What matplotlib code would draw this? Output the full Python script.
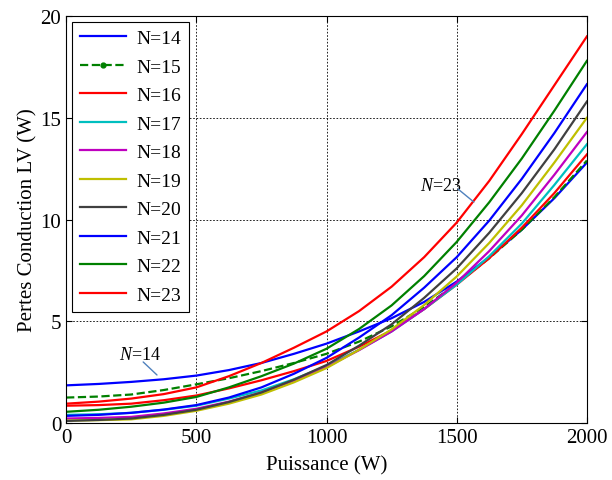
import matplotlib
matplotlib.use("Agg")
import matplotlib.pyplot as plt
from matplotlib.lines import Line2D

plt.rcParams["font.family"] = ["Liberation Serif", "DejaVu Serif"]
plt.rcParams["mathtext.fontset"] = "custom"
plt.rcParams["mathtext.rm"] = "Liberation Serif"
plt.rcParams["mathtext.it"] = "Liberation Serif:italic"

# Power sweep (W)
puissance = [0, 125, 250, 375, 500, 625, 750, 875, 1000,
             1125, 1250, 1375, 1500, 1625, 1750, 1875, 2000]

# Conduction losses on the LV side (W) for each number of turns N
pertes_n14 = [1.85, 1.92, 2.02, 2.15, 2.33, 2.60, 2.95, 3.40, 3.90,
              4.50, 5.15, 5.95, 6.95, 8.15, 9.50, 11.05, 12.8]
pertes_n15 = [1.25, 1.30, 1.40, 1.62, 1.90, 2.20, 2.55, 2.95, 3.40,
              4.00, 4.75, 5.70, 6.85, 8.10, 9.50, 11.10, 12.9]
pertes_n16 = [0.85, 0.88, 0.95, 1.12, 1.35, 1.70, 2.10, 2.55, 3.05,
              3.75, 4.55, 5.60, 6.80, 8.10, 9.60, 11.30, 13.2]
pertes_n17 = [0.40, 0.43, 0.50, 0.65, 0.85, 1.20, 1.60, 2.15, 2.80,
              3.60, 4.50, 5.60, 6.80, 8.20, 9.80, 11.70, 13.7]
pertes_n18 = [0.22, 0.25, 0.30, 0.47, 0.70, 1.05, 1.50, 2.08, 2.75,
              3.58, 4.50, 5.60, 6.90, 8.45, 10.2, 12.20, 14.3]
pertes_n19 = [0.12, 0.14, 0.18, 0.35, 0.60, 0.95, 1.40, 2.00, 2.70,
              3.60, 4.60, 5.80, 7.20, 8.85, 10.7, 12.80, 15.0]
pertes_n20 = [0.10, 0.15, 0.22, 0.40, 0.65, 1.03, 1.50, 2.13, 2.85,
              3.80, 4.85, 6.15, 7.60, 9.35, 11.3, 13.45, 15.8]
pertes_n21 = [0.35, 0.40, 0.50, 0.66, 0.88, 1.25, 1.75, 2.42, 3.20,
              4.20, 5.30, 6.65, 8.15, 9.95, 12.0, 14.25, 16.65]
pertes_n22 = [0.55, 0.65, 0.80, 1.00, 1.28, 1.75, 2.30, 2.92, 3.65,
              4.62, 5.78, 7.22, 8.90, 10.85, 13.0, 15.35, 17.8]
pertes_n23 = [0.95, 1.05, 1.20, 1.42, 1.75, 2.30, 2.95, 3.70, 4.50,
              5.50, 6.70, 8.15, 9.85, 11.90, 14.2, 16.60, 19.0]

labels = ["N=14", "N=15", "N=16", "N=17", "N=18",
          "N=19", "N=20", "N=21", "N=22", "N=23"]
series = [pertes_n14, pertes_n15, pertes_n16, pertes_n17, pertes_n18,
          pertes_n19, pertes_n20, pertes_n21, pertes_n22, pertes_n23]
colors = ["#0000ff", "#008000", "#ff0000", "#00bfbf", "#bf00bf",
          "#bfbf00", "#404040", "#0000ff", "#008000", "#ff0000"]
styles = ["-", "--", "-", "-", "-", "-", "-", "-", "-", "-"]

fig = plt.figure(figsize=(6.12, 4.81), dpi=100)
ax = fig.add_axes([0.108, 0.1185, 0.851, 0.846])

handles = []
for y, lab, c, ls in zip(series, labels, colors, styles):
    ax.plot(puissance, y, color=c, linestyle=ls, linewidth=1.6)
    if ls == "--":
        handles.append(Line2D([], [], color=c, linestyle=ls, linewidth=1.6,
                              marker=".", markersize=7, label=lab))
    else:
        handles.append(Line2D([], [], color=c, linestyle=ls, linewidth=1.6, label=lab))

ax.set_xlim(0, 2000)
ax.set_ylim(0, 20)
ax.set_xticks([0, 500, 1000, 1500, 2000])
ax.set_yticks([0, 5, 10, 15, 20])
ax.grid(True, color="black", linestyle=(0, (2, 2)), linewidth=0.6)
ax.tick_params(direction="in", top=True, right=True, labelsize=15, length=4)
for s in ax.spines.values():
    s.set_linewidth(0.8)

ax.set_xlabel("Puissance (W)", fontsize=15, labelpad=6)
ax.set_ylabel("Pertes Conduction LV (W)", fontsize=15, labelpad=2)

leg = ax.legend(handles=handles, loc="upper left", fontsize=14,
                frameon=True, fancybox=False, edgecolor="black",
                framealpha=1, handlelength=2.4, handletextpad=0.5,
                labelspacing=0.56, borderaxespad=0.3, numpoints=1)
leg.get_frame().set_linewidth(0.8)

# Callouts naming the extreme curves
leader = dict(arrowstyle="-", color="#4f81bd", linewidth=1.0, shrinkA=0, shrinkB=0)
ax.text(284, 3.39, "$\\mathit{N}$=14", fontsize=13, ha="center", va="center")
ax.annotate("", xy=(349, 2.36), xytext=(296, 3.0), arrowprops=leader)
ax.text(1440, 11.65, "$\\mathit{N}$=23", fontsize=13, ha="center", va="center")
ax.annotate("", xy=(1566, 10.86), xytext=(1505, 11.5), arrowprops=leader)

fig.savefig("out.png", dpi=100)
